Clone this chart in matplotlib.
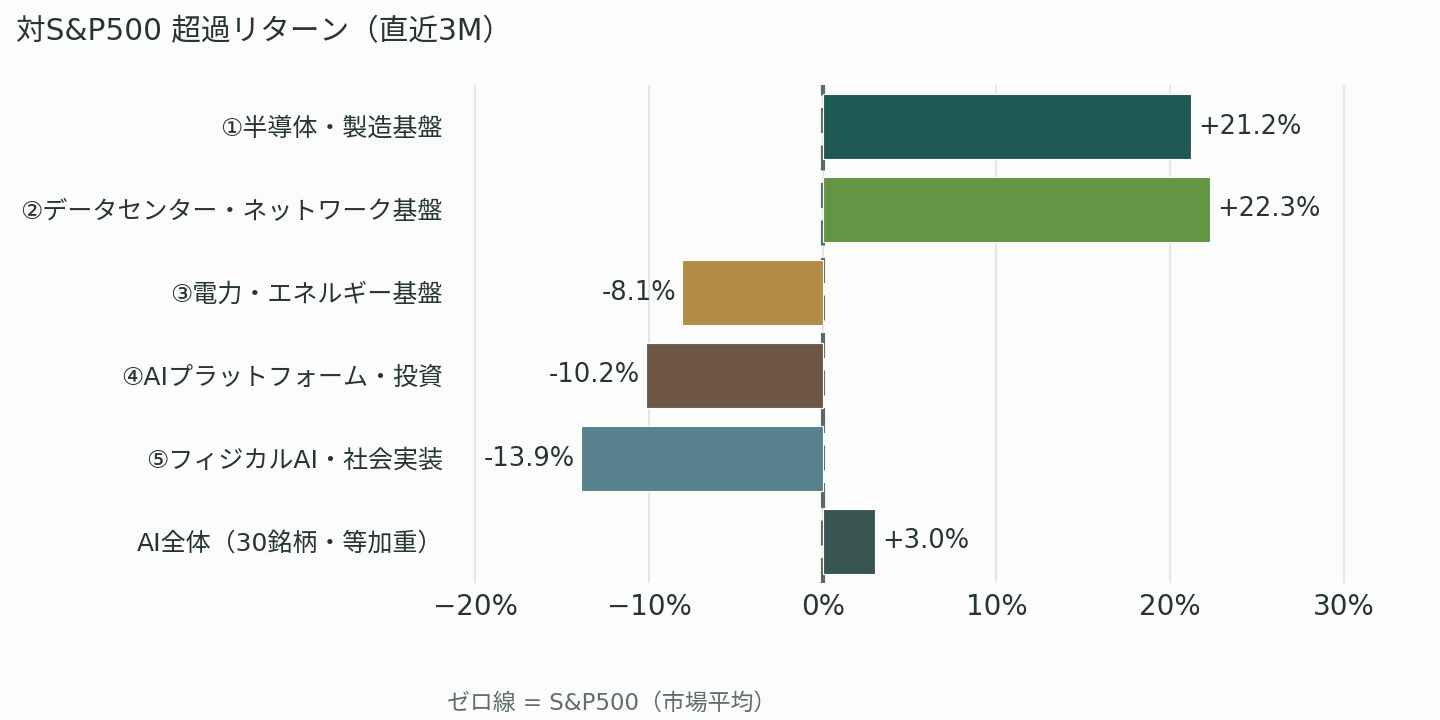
import matplotlib.pyplot as plt
from matplotlib.ticker import FuncFormatter

# Latin glyphs from DejaVu, Japanese falls through to Noto CJK
plt.rcParams['font.family'] = ['DejaVu Sans', 'Noto Sans CJK JP']

# --- data ---
categories = [
    "①半導体・製造基盤",
    "②データセンター・ネットワーク基盤",
    "③電力・エネルギー基盤",
    "④AIプラットフォーム・投資",
    "⑤フィジカルAI・社会実装",
    "AI全体（30銘柄・等加重）",
]
excess = [21.2, 22.3, -8.1, -10.2, -13.9, 3.0]
colors = ["#1f5954", "#639644", "#b38d45", "#6e5646", "#58818e", "#395552"]
xticks = [-20, -10, 0, 10, 20, 30]

BG = "#fcfcfa"
TXT = "#263634"

fig = plt.figure(figsize=(14.4, 7.2), dpi=100, facecolor=BG)
ax = fig.add_axes([458/1440, 1 - 583/720, (1422 - 458)/1440, (583 - 85)/720])
ax.set_facecolor(BG)

ypos = list(range(len(categories)))

# zero line = S&P500 (behind bars)
ax.axvline(0, color="#5b6b67", lw=3, ls=(0, (6, 3)), zorder=1)

ax.barh(ypos, excess, height=0.78, color=colors,
        edgecolor="#ffffff", linewidth=0.8, zorder=2)

for y, v in zip(ypos, excess):
    txt = f"{v:+.1f}%"
    if v >= 0:
        ax.annotate(txt, (v, y), xytext=(7, 0), textcoords="offset pixels",
                    ha="left", va="center", fontsize=18.5, color=TXT)
    else:
        ax.annotate(txt, (v, y), xytext=(-6, 0), textcoords="offset pixels",
                    ha="right", va="center", fontsize=18.5, color=TXT)

ax.set_xlim(-21, 34.5)
ax.set_ylim(len(categories) - 0.5, -0.5)
ax.set_xticks(xticks)
ax.xaxis.set_major_formatter(FuncFormatter(lambda x, p: f"{x:.0f}%".replace("-", "\u2212")))
ax.set_yticks(ypos)
ax.set_yticklabels(categories)
ax.tick_params(axis="x", length=0, pad=7, labelsize=20, labelcolor=TXT)
ax.tick_params(axis="y", length=0, pad=11, labelsize=18, labelcolor=TXT)
ax.grid(axis="x", color="#e6e6e4", lw=1.5, zorder=0)
ax.set_axisbelow(True)
for s in ax.spines.values():
    s.set_visible(False)

fig.text(16/1440, 1 - 32/720, "対S&P500 超過リターン（直近3M）",
         ha="left", va="center", fontsize=21.3, color=TXT)
fig.text(447/1440, 1 - 703/720, "ゼロ線 = S&P500（市場平均）",
         ha="left", va="center", fontsize=16.5, color="#5f6f6b")

plt.savefig("out.png", dpi=100, facecolor=BG)
